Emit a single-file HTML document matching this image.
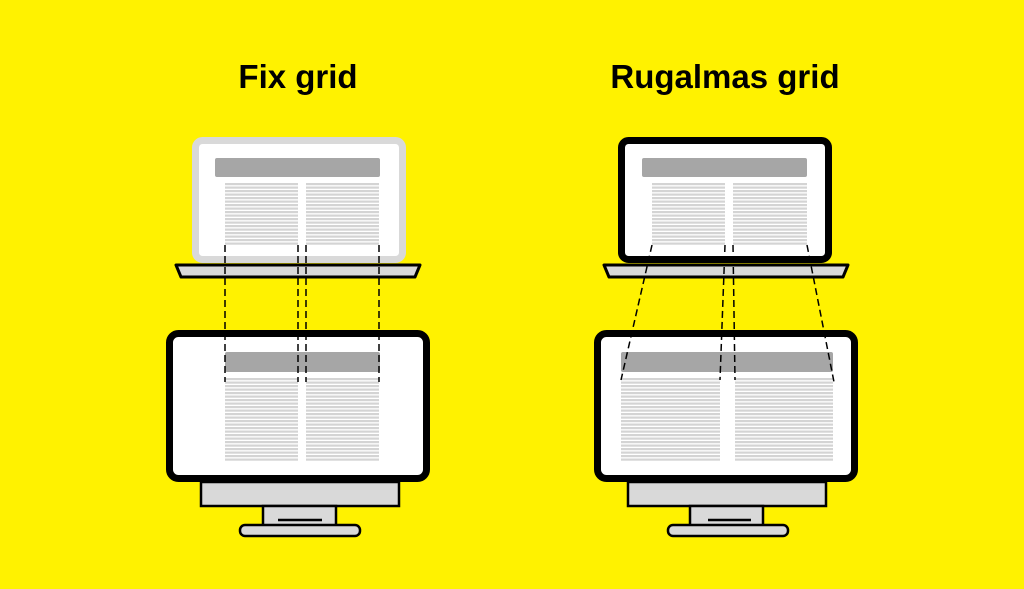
<!DOCTYPE html>
<html><head><meta charset="utf-8"><style>
html,body{margin:0;padding:0;background:#fff200;}
svg{display:block}
</style></head><body>
<svg width="1024" height="589" viewBox="0 0 1024 589" xmlns="http://www.w3.org/2000/svg">
<defs>
<pattern id="ln" x="0" y="183" width="10" height="3.5" patternUnits="userSpaceOnUse">
<rect x="0" y="0" width="10" height="2.2" fill="#d4d4d4"/>
</pattern>
<pattern id="ln2" x="0" y="378" width="10" height="3.5" patternUnits="userSpaceOnUse">
<rect x="0" y="0" width="10" height="2.2" fill="#d4d4d4"/>
</pattern>
</defs>
<rect width="1024" height="589" fill="#fff200"/>
<g font-family="Liberation Sans, sans-serif" font-weight="bold" font-size="33" text-anchor="middle" fill="#000">
<text x="298" y="88">Fix grid</text>
<text x="725" y="88">Rugalmas grid</text>
</g>

<!-- Left laptop -->
<rect x="195.5" y="140.5" width="207" height="119" rx="7" fill="#fff" stroke="#d9d9d9" stroke-width="7"/>
<rect x="215" y="158" width="165" height="19" rx="2" fill="#a6a6a6"/>
<rect x="225" y="183" width="73" height="63" fill="url(#ln)"/>
<rect x="306" y="183" width="73" height="63" fill="url(#ln)"/>
<polygon points="176,265 420,265 415,277 181,277" fill="#d9d9d9" stroke="#000" stroke-width="3" stroke-linejoin="round"/>

<!-- Left monitor -->
<rect x="201" y="482" width="198" height="24" fill="#d9d9d9" stroke="#000" stroke-width="2.5"/>
<rect x="263" y="506" width="73" height="20" fill="#d9d9d9" stroke="#000" stroke-width="2.5"/>
<rect x="240" y="525" width="120" height="11" rx="5" fill="#d9d9d9" stroke="#000" stroke-width="2.5"/>
<line x1="278" y1="520" x2="322" y2="520" stroke="#000" stroke-width="2.5"/>
<rect x="169.5" y="333.5" width="257" height="145" rx="9" fill="#fff" stroke="#000" stroke-width="7"/>
<rect x="225" y="352" width="155" height="20" rx="2" fill="#a6a6a6"/>
<rect x="225" y="378" width="73" height="84" fill="url(#ln2)"/>
<rect x="306" y="378" width="73" height="84" fill="url(#ln2)"/>

<g stroke="#000" stroke-width="1.5" stroke-dasharray="7,4" fill="none">
<line x1="225" y1="245" x2="225" y2="382"/>
<line x1="298" y1="245" x2="298" y2="382"/>
<line x1="306" y1="245" x2="306" y2="382"/>
<line x1="379" y1="245" x2="379" y2="382"/>
</g>

<!-- Right laptop -->
<rect x="621.5" y="140.5" width="207" height="119" rx="7" fill="#fff" stroke="#000" stroke-width="7"/>
<rect x="642" y="158" width="165" height="19" rx="2" fill="#a6a6a6"/>
<rect x="652" y="183" width="73" height="63" fill="url(#ln)"/>
<rect x="733" y="183" width="74" height="63" fill="url(#ln)"/>
<polygon points="604,265 848,265 843,277 609,277" fill="#d9d9d9" stroke="#000" stroke-width="3" stroke-linejoin="round"/>

<!-- Right monitor -->
<rect x="628" y="482" width="198" height="24" fill="#d9d9d9" stroke="#000" stroke-width="2.5"/>
<rect x="690" y="506" width="73" height="20" fill="#d9d9d9" stroke="#000" stroke-width="2.5"/>
<rect x="668" y="525" width="120" height="11" rx="5" fill="#d9d9d9" stroke="#000" stroke-width="2.5"/>
<line x1="708" y1="520" x2="751" y2="520" stroke="#000" stroke-width="2.5"/>
<rect x="597.5" y="333.5" width="257" height="145" rx="9" fill="#fff" stroke="#000" stroke-width="7"/>
<rect x="621" y="352" width="212" height="20" rx="2" fill="#a6a6a6"/>
<rect x="621" y="378" width="99" height="84" fill="url(#ln2)"/>
<rect x="735" y="378" width="98" height="84" fill="url(#ln2)"/>

<g stroke="#000" stroke-width="1.5" stroke-dasharray="7,4" fill="none">
<line x1="652" y1="245" x2="621" y2="380"/>
<line x1="725" y1="245" x2="720" y2="380"/>
<line x1="733" y1="245" x2="735" y2="380"/>
<line x1="807" y1="245" x2="834" y2="382"/>
</g>
</svg>
</body></html>
